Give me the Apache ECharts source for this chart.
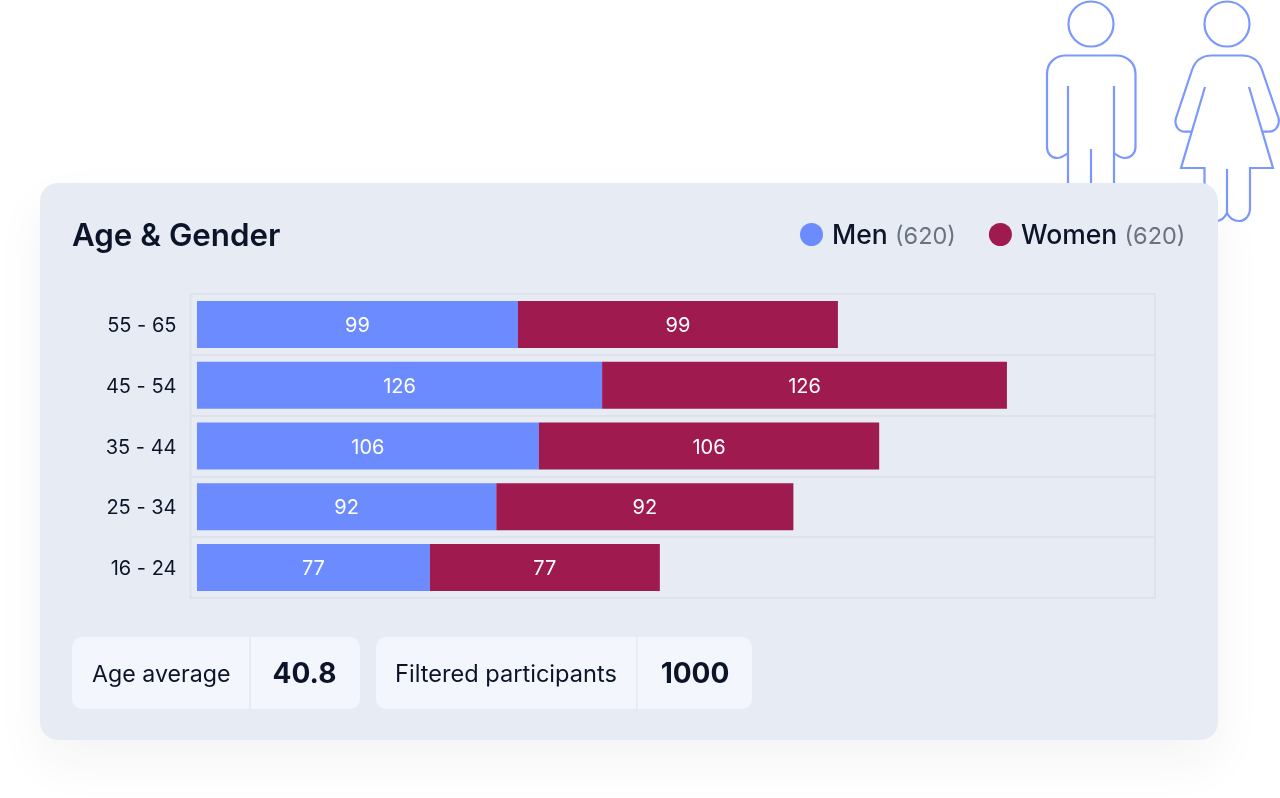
<!DOCTYPE html>
<html>
<head>
<meta charset="utf-8">
<style>
html, body { margin: 0; padding: 0; background: #fff; }
#chart { width: 1280px; height: 798px; }
</style>
<script src="https://cdn.jsdelivr.net/npm/echarts@6/dist/echarts.min.js"></script>
</head>
<body>
<div id="chart"></div>
<script>
var ink = '#0b1428';
var font = 'Inter';
var iconColor = '#7a98ff';
var frameColor = '#dfe2e8';

// printed = number written in the bar, men/women = bar length
var rows = [
    { age: '16 - 24', printed: 77, men: 72.2, women: 71.3 },
    { age: '25 - 34', printed: 92, men: 92.8, women: 92.1 },
    { age: '35 - 44', printed: 106, men: 106, women: 105.5 },
    { age: '45 - 54', printed: 126, men: 125.6, women: 125.5 },
    { age: '55 - 65', printed: 99, men: 99.5, women: 99.2 }
];
var totals = { Men: 620, Women: 620 };

function barData(key) {
    return rows.map(function (r) {
        return { value: r[key], printed: r.printed };
    });
}

function barSeries(name, key, color) {
    return {
        name: name,
        type: 'bar',
        stack: 'gender',
        barWidth: 47,
        data: barData(key),
        itemStyle: { color: color },
        label: {
            show: true,
            position: 'inside',
            offset: [0, 1.5],
            color: '#fff',
            fontFamily: font,
            fontSize: 20,
            formatter: function (p) { return p.data.printed; }
        }
    };
}

function statBox(x, w, split, title, titleSize, value, titleX, valueX) {
    return [
        { type: 'rect', z: -1, shape: { x: x, y: 637, width: w, height: 72, r: 10 }, style: { fill: '#f3f6fc' } },
        { type: 'rect', z: -1, shape: { x: split, y: 637, width: 2, height: 72 }, style: { fill: '#e7ebf6' } },
        { type: 'text', z: 1, style: { x: titleX, y: 675, text: title, fill: ink, fontFamily: font, fontSize: titleSize, verticalAlign: 'middle' } },
        { type: 'text', z: 1, style: { x: valueX, y: 675, text: value, fill: ink, fontFamily: font, fontSize: 28, fontWeight: 700, textAlign: 'center', verticalAlign: 'middle' } }
    ];
}

var manPath = 'M1068 86V183M1114 86V183M1091 149V183' +
    'M1068 153C1063 157 1060 158 1057 158C1051 158 1047 153 1047 147V74C1047 63 1055 55.5 1066 55.5H1116C1127 55.5 1135.5 63 1135.5 74V147C1135.5 153 1131 158 1125 158C1122 158 1119 157 1114 153';
var womanPath = 'M1205 87L1181 168H1204.5V208C1204.5 216 1210 221 1216 221C1221 221 1225 217 1227 213C1229 217 1233 221 1239 221C1245 221 1250 216 1250 208V168H1273L1249 87' +
    'M1227 169V213' +
    'M1192 131.7H1185C1178 131.7 1174 125 1176 118L1192 70C1195 61 1202 55.5 1212 55.5H1242C1252 55.5 1259 61 1262 70L1278.5 118C1280 125 1276 131.7 1269 131.7H1262.5';
echarts.graphic.registerShape('manIcon', echarts.graphic.extendPath(manPath, {}));
echarts.graphic.registerShape('womanIcon', echarts.graphic.extendPath(womanPath, {}));

var chart = echarts.init(document.getElementById('chart'));
chart.setOption({
    backgroundColor: '#fff',
    animation: false,
    title: {
        text: 'Age & Gender',
        left: 72,
        top: 221,
        padding: 0,
        textStyle: { color: ink, fontFamily: font, fontSize: 31.3, fontWeight: 600 }
    },
    legend: {
        left: 800,
        top: 223,
        padding: 0,
        icon: 'circle',
        itemWidth: 23,
        itemHeight: 23,
        itemGap: 33,
        selectedMode: false,
        formatter: function (name) {
            return '{n|' + name + '} {c|(' + totals[name] + ')}';
        },
        textStyle: {
            rich: {
                n: { color: ink, fontFamily: font, fontSize: 26.5, fontWeight: 500, padding: [4, 0, 0, 4] },
                c: { color: '#6b7280', fontFamily: font, fontSize: 23.5, padding: [4, 0, 0, 4] }
            }
        }
    },
    grid: { left: 190.5, top: 294, width: 964.5, height: 304, show: true, backgroundColor: 'transparent', borderColor: frameColor, borderWidth: 2 },
    xAxis: { type: 'value', min: -2, max: 297, show: false },
    yAxis: {
        type: 'category',
        data: rows.map(function (r) { return r.age; }),
        axisLine: { show: false, onZero: false },
        axisTick: { show: false },
        axisLabel: {
            margin: 14,
            formatter: '{a|{value}}',
            rich: { a: { color: ink, fontFamily: font, fontSize: 20, lineHeight: 23, verticalAlign: 'bottom' } }
        },
        splitLine: { show: true, interval: 0, lineStyle: { color: frameColor, width: 2 } }
    },
    series: [
        barSeries('Men', 'men', '#6b8bff'),
        barSeries('Women', 'women', '#9e1a4f')
    ],
    graphic: {
        elements: [
            { type: 'circle', z: -3, shape: { cx: 1091, cy: 24, r: 22.5 }, style: { fill: 'none', stroke: iconColor, lineWidth: 2.2 } },
            { type: 'circle', z: -3, shape: { cx: 1227, cy: 24, r: 22.5 }, style: { fill: 'none', stroke: iconColor, lineWidth: 2.2 } },
            { type: 'manIcon', z: -3, style: { fill: 'none', stroke: iconColor, lineWidth: 2.2 } },
            { type: 'womanIcon', z: -3, style: { fill: 'none', stroke: iconColor, lineWidth: 2.2 } },
            {
                type: 'rect', z: -2,
                shape: { x: 40, y: 183, width: 1178, height: 557, r: 18 },
                style: { fill: '#e7ebf4', shadowBlur: 50, shadowOffsetY: 22, shadowColor: 'rgba(30,40,80,0.05)' }
            }
        ].concat(
            statBox(72, 288, 249, 'Age average', 23.2, '40.8', 92, 304.5),
            statBox(376, 376, 636, 'Filtered participants', 23.6, '1000', 395, 695)
        )
    }
});
</script>
</body>
</html>
